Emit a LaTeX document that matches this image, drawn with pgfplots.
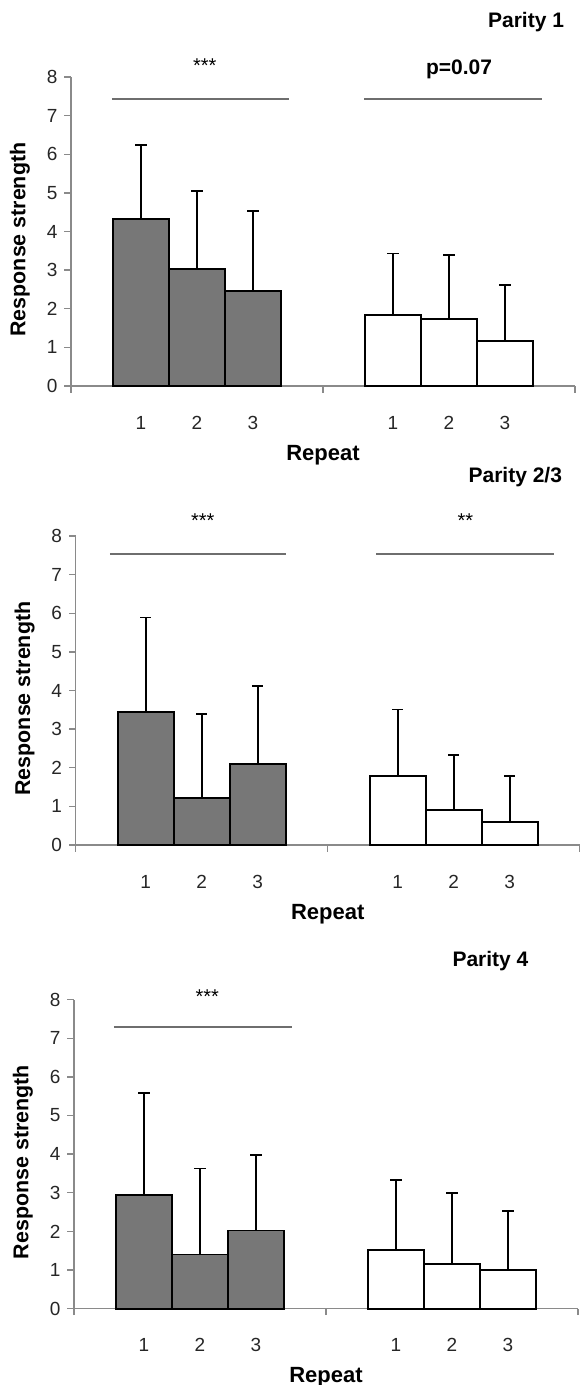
\documentclass[border=0pt]{standalone}
\usepackage{pgfplots}
\pgfplotsset{compat=1.18}
\usepackage{fontspec}
\setmainfont{Liberation Sans}

\definecolor{barDark}{HTML}{777777}
\definecolor{axGray}{HTML}{8A8A8A}
\definecolor{sigGray}{HTML}{6E6E6E}

\tikzset{
  stars/.style={font=\fontsize{10}{12}\selectfont},
  ptitle/.style={font=\bfseries\fontsize{10.5}{12}\selectfont, anchor=east},
}

\pgfplotsset{
  panel/.style={
    scale only axis, width=252pt, height=154.5pt,
    anchor=south west, clip=false,
    xmin=0, xmax=9, ymin=0, ymax=8,
    axis x line*=bottom, axis y line*=left,
    x axis line style={-, axGray, line width=0.7pt},
    y axis line style={-, axGray, line width=0.7pt},
    tick align=outside, major tick length=3.3pt,
    tick style={axGray, line width=0.7pt},
    ytick={0,1,...,8},
    xtick={0,4.5,9}, xticklabels={},
    extra x ticks={1.25,2.25,3.25,5.75,6.75,7.75},
    extra x tick labels={1,2,3,1,2,3},
    extra x tick style={major tick length=0pt,
      xticklabel style={yshift=-11.5pt}},
    /pgf/number format/assume math mode=true,
    ticklabel style={font=\fontsize{9.5}{11}\selectfont, text=black!85},
    ylabel={\textbf{Response strength}},
    ylabel style={at={(axis description cs:0,0.474)}, anchor=center,
      yshift=25.5pt, font=\fontsize{10.7}{13}\selectfont},
    xlabel={\textbf{Repeat}},
    xlabel style={at={(axis description cs:0.5,0)}, anchor=north,
      yshift=-26pt, font=\fontsize{11}{13}\selectfont},
    ybar, bar width=1, bar shift=0pt,
    error bars/y dir=plus, error bars/y explicit,
    error bars/error bar style={black, line width=0.9pt},
    error bars/error mark options={rotate=90, black, mark size=2.8pt, line width=0.9pt},
  },
  darkbar/.style={fill=barDark, draw=black, line width=0.9pt},
  whitebar/.style={fill=white, draw=black, line width=0.9pt},
  sig/.style={sharp plot, no marks, sigGray, line width=0.9pt, forget plot},
}

\begin{document}
\begin{tikzpicture}
\useasboundingbox (0,0) rectangle (289.5pt,-692.5pt);

% Parity 1
\begin{axis}[panel, at={(35.5pt,-193pt)}]
  \addplot[darkbar] coordinates {(1.25,4.33) +- (0,1.92) (2.25,3.03) +- (0,2.01) (3.25,2.45) +- (0,2.08)};
  \addplot[whitebar] coordinates {(5.75,1.83) +- (0,1.60) (6.75,1.73) +- (0,1.66) (7.75,1.16) +- (0,1.45)};
  \addplot[sig] coordinates {(0.73,7.44) (3.90,7.44)};
  \addplot[sig] coordinates {(5.24,7.44) (8.41,7.44)};
  \node[stars] at (axis cs:2.39,8.29) {***};
  \node[font=\bfseries\fontsize{10.5}{12}\selectfont] at (axis cs:6.93,8.2) {p=0.07};
  \node[ptitle] at (axis cs:8.93,9.41) {Parity 1};
\end{axis}

% Parity 2/3
\begin{axis}[panel, at={(37.85pt,-422.5pt)}]
  \addplot[darkbar] coordinates {(1.25,3.44) +- (0,2.45) (2.25,1.21) +- (0,2.18) (3.25,2.09) +- (0,2.02)};
  \addplot[whitebar] coordinates {(5.75,1.78) +- (0,1.73) (6.75,0.91) +- (0,1.43) (7.75,0.59) +- (0,1.19)};
  \addplot[sig] coordinates {(0.61,7.53) (3.76,7.53)};
  \addplot[sig] coordinates {(5.37,7.53) (8.54,7.53)};
  \node[stars] at (axis cs:2.27,8.4) {***};
  \node[stars] at (axis cs:6.96,8.4) {**};
  \node[ptitle] at (axis cs:8.81,9.53) {Parity 2/3};
\end{axis}

% Parity 4
\begin{axis}[panel, at={(37pt,-654.3pt)}]
  \addplot[darkbar] coordinates {(1.25,2.95) +- (0,2.63) (2.25,1.40) +- (0,2.23) (3.25,2.02) +- (0,1.96)};
  \addplot[whitebar] coordinates {(5.75,1.51) +- (0,1.81) (6.75,1.15) +- (0,1.85) (7.75,0.99) +- (0,1.54)};
  \addplot[sig] coordinates {(0.71,7.29) (3.89,7.29)};
  \node[stars] at (axis cs:2.38,8.08) {***};
  \node[ptitle] at (axis cs:8.24,9.01) {Parity 4};
\end{axis}
\end{tikzpicture}
\end{document}
